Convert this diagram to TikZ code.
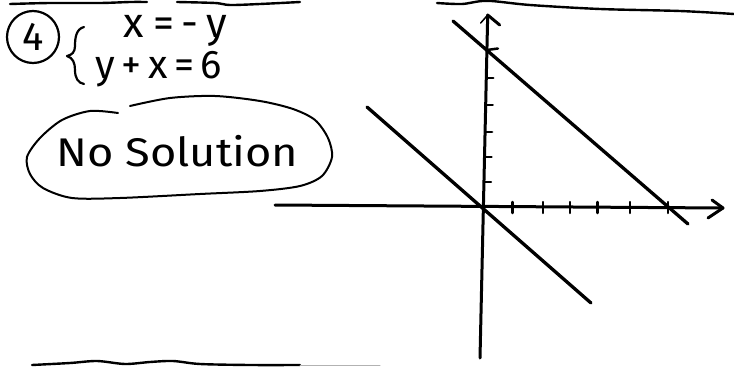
\documentclass[tikz,border=0pt]{standalone}
\usepackage{fontspec}
\setmainfont{Fira Sans}
\begin{document}
\begin{tikzpicture}[x=1pt,y=-1pt,
  ink/.style={line width=#1, line cap=round, line join=round},
  ink/.default=3pt,
  hand/.style={font=\fontsize{#1}{#1}\selectfont, inner sep=0pt},
  hand/.default=40]
\useasboundingbox (0,0) rectangle (734,367);
% page edges
\draw[ink=2.4pt] plot[smooth] coordinates {(10,4) (50,3) (100,3) (130,2) (147,2)};
\draw[ink=2.4pt] plot[smooth] coordinates {(177,2) (215,3) (230,5) (260,4) (300,2)};
\draw[ink=2.4pt] plot[smooth] coordinates {(437,3) (462,4) (487,0.8) (530,5) (600,9) (680,11) (734,14)};
\draw[ink=2.4pt] plot[smooth] coordinates {(32,365) (70,363) (97,361) (125,364) (150,362) (173,361) (200,364) (250,365) (300,365)};
\draw[ink=1pt, gray!60] (300,365) -- (380,365);
% problem number
\node[circle, draw, ink=2.2pt, minimum size=52pt, inner sep=0pt, hand=40] (num) at (33,37) {4};
% brace
\draw[ink=2.2pt] (84,27) .. controls (76,29) and (75,38) .. (75,46)
  .. controls (75,52) and (72,55) .. (67,56)
  .. controls (73,58) and (75,63) .. (75,70)
  .. controls (75,78) and (78,83) .. (84,84);
% equations
\node[hand=42, anchor=base west] (eqa) at (123,37) {x\hspace{10pt}=\hspace{7pt}-\hspace{8pt}y};
\node[hand=40, anchor=base west] (eqb) at (95,78) {y\,+\,x\,=\,6};
% answer
\node[hand=40, anchor=base west] (ans) at (56,166) {\scalebox{1.13}[1]{No Solution}};
\draw[ink=2pt] plot[smooth] coordinates {(118,113) (90,111) (62,120) (40,138) (27,157) (30,174) (43,188) (72,198) (120,198) (200,194) (260,191) (300,186) (322,176) (332,157) (328,138) (315,120) (293,109) (260,101) (215,96) (170,98) (130,106)};
% axes
\coordinate (xl) at (275,205);
\coordinate (xr) at (723,208);
\coordinate (yt) at (487.7,15);
\coordinate (yb) at (480,358);
\draw[ink=3pt] (xl) -- (xr);
\draw[ink=3pt] (xr) -- ++(-11,-8);
\draw[ink=3pt] (xr) -- ++(-15,10);
\draw[ink=3pt] (yb) -- (yt);
\draw[ink=3pt] (yt) -- ++(12,10);
\draw[ink=1.5pt] (yt) -- ++(-7,8);
% ticks
\foreach \y in {78,105,132,157,182}
  \draw[ink=2.5pt] ({487.7-(\y-15)*0.0224},\y) -- ++(7,0);
\draw[ink=2.5pt] ({487.7-(50-15)*0.0224},50) -- ++(11,-1.5);
\foreach \x in {512.7,543,570,597.7,630,668}
  \draw[ink=2.5pt] (\x,202) -- (\x,213);
% lines
\coordinate (a1) at (453,21);
\coordinate (a2) at (688,224);
\coordinate (b1) at (367,107);
\coordinate (b2) at (591,303);
\draw[ink=3.3pt] (a1) -- (a2);
\draw[ink=3.3pt] (b1) -- (b2);
\end{tikzpicture}
\end{document}
